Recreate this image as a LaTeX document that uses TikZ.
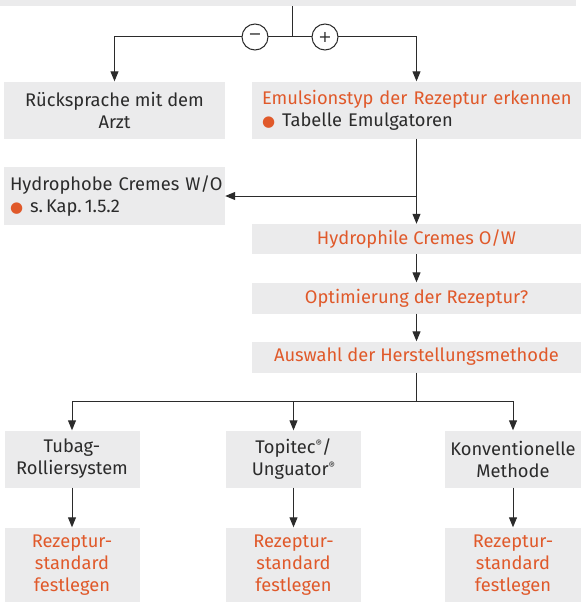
\documentclass[tikz,border=0pt]{standalone}
\usepackage{fontspec}
\setmainfont{Fira Sans}
\newfontfamily\symfont{DejaVu Sans}
\usetikzlibrary{arrows.meta}
\definecolor{boxgray}{HTML}{EBEBEC}
\definecolor{accent}{HTML}{E0592A}
\definecolor{ink}{HTML}{2B2B2B}
\newcommand{\blt}{{\color{accent}\symfont\fontsize{15}{15}\selectfont ●}\hspace{7pt}}
\newcommand{\reg}{\raisebox{0.32em}{\fontsize{10}{10}\selectfont ®}}
\begin{document}
\begin{tikzpicture}[x=1pt,y=-1pt,
  font=\fontsize{18.3}{22}\selectfont,
  box/.style={fill=boxgray, inner sep=0pt, text=ink, align=center},
  hl/.style={text=accent},
  ln/.style={line width=1pt, draw=ink},
  arr/.style={ln, -{Triangle[length=10pt,width=8pt]}},
  sign/.style={circle, draw=ink, fill=white, line width=1pt, minimum size=26pt, inner sep=0pt, text=ink, font=\symfont\fontsize{16}{16}\selectfont}]
\useasboundingbox (0,0) rectangle (581,602);
% boxes
\node[box, minimum width=576pt, minimum height=6pt, anchor=north west] (top) at (0,0) {};
\node[box, minimum width=221pt, minimum height=57pt] (rueck) at (114.5,110) {Rücksprache mit dem\\Arzt};
\node[box, minimum width=329pt, minimum height=57pt, text width=309pt, align=left] (emul) at (416.5,110)
  {\mbox{\textcolor{accent}{Emulsionstyp der Rezeptur erkennen}}\\\mbox{\blt Tabelle Emulgatoren}};
\node[box, minimum width=221pt, minimum height=58pt, text width=209pt, align=left] (hydrophob) at (114.5,196)
  {\mbox{Hydrophobe Cremes W/O}\\\mbox{\blt s.\,Kap.\,1.5.2}};
\node[box, hl, minimum width=329pt, minimum height=30pt] (hydrophil) at (416.5,239) {Hydrophile Cremes O/W};
\node[box, hl, minimum width=329pt, minimum height=31pt] (optim) at (416.5,298) {Optimierung der Rezeptur?};
\node[box, hl, minimum width=329pt, minimum height=31pt] (auswahl) at (416.5,357) {Auswahl der Herstellungsmethode};
\node[box, minimum width=135pt, minimum height=57pt] (tubag) at (72,459) {Tubag-\\Rolliersystem};
\node[box, minimum width=135pt, minimum height=57pt] (topitec) at (293.5,459) {Topitec\reg/\\Unguator\reg};
\node[box, minimum width=135.5pt, minimum height=57pt] (konv) at (513,459) {Konventionelle\\Methode};
\node[box, hl, minimum width=135pt, minimum height=75pt] (rz1) at (72,565) {Rezeptur-\\standard\\festlegen};
\node[box, hl, minimum width=135pt, minimum height=75pt] (rz2) at (293.5,565) {Rezeptur-\\standard\\festlegen};
\node[box, hl, minimum width=135.5pt, minimum height=75pt] (rz3) at (513,565) {Rezeptur-\\standard\\festlegen};
% connectors
\coordinate (split) at (292.5,37);
\draw[ln] (top.south -| split) -- (split);
\draw[arr] (split) -| (rueck.north);
\draw[arr] (split) -| (emul.north);
\node[sign] (minus) at (255,37) {−};
\node[sign] (plus) at (325,37) {+};
\draw[arr] (emul.south) -- (hydrophil.north);
\coordinate (br) at (emul.south |- hydrophob.east);
\draw[arr] (br) -- (hydrophob.east);
\draw[arr] (hydrophil.south) -- (optim.north);
\draw[arr] (optim.south) -- (auswahl.north);
\coordinate (fork) at (416.5,401);
\draw[ln] (auswahl.south) -- (fork);
\draw[arr] (fork) -| (tubag.north);
\draw[arr] (fork) -| (topitec.north);
\draw[arr] (fork) -| (konv.north);
\draw[arr] (tubag.south) -- (rz1.north);
\draw[arr] (topitec.south) -- (rz2.north);
\draw[arr] (konv.south) -- (rz3.north);
\end{tikzpicture}
\end{document}
